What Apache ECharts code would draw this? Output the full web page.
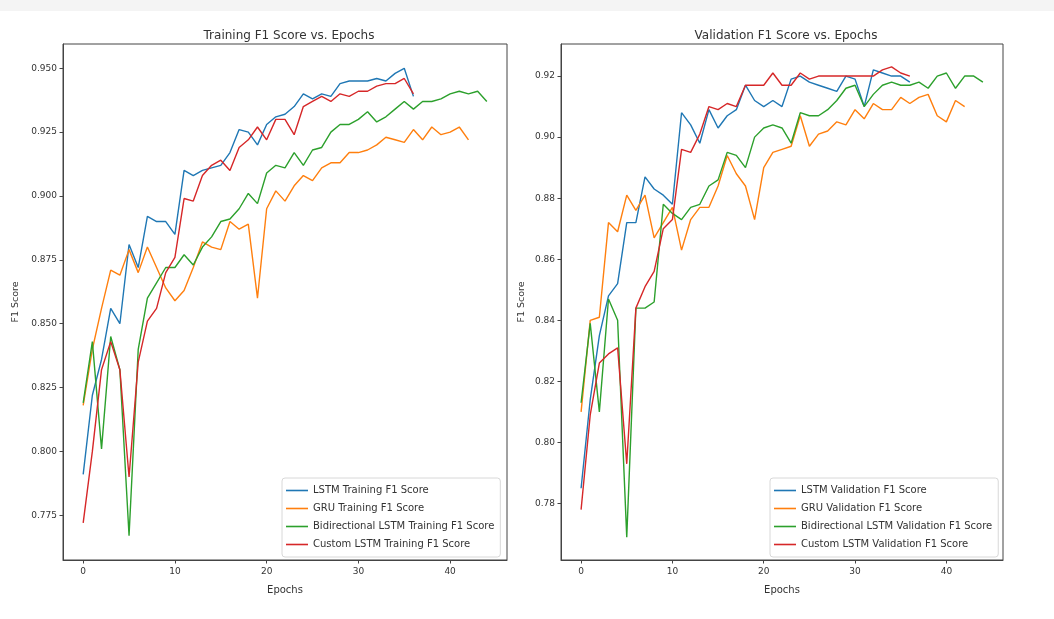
<!DOCTYPE html>
<html>
<head>
<meta charset="utf-8">
<script src="https://cdn.jsdelivr.net/npm/echarts@6/dist/echarts.min.js"></script>
<style>html,body{margin:0;padding:0;background:#fff}#c{width:1054px;height:619px}</style>
</head>
<body>
<div id="c"></div>
<script>
const xTicks = [0, 10, 20, 30, 40];
const yTicksTrain = [0.775, 0.800, 0.825, 0.850, 0.875, 0.900, 0.925, 0.950];
const yTicksVal = [0.78, 0.80, 0.82, 0.84, 0.86, 0.88, 0.90, 0.92];

const trainLSTM = [0.791,0.822,0.836,0.856,0.850,0.881,0.872,0.892,0.890,0.890,0.885,0.910,0.908,0.910,0.911,0.912,0.917,0.926,0.925,0.920,0.928,0.931,0.932,0.935,0.940,0.938,0.940,0.939,0.944,0.945,0.945,0.945,0.946,0.945,0.948,0.950,0.939];
const trainGRU = [0.818,0.840,0.856,0.871,0.869,0.879,0.870,0.880,0.872,0.864,0.859,0.863,0.872,0.882,0.880,0.879,0.890,0.887,0.889,0.860,0.895,0.902,0.898,0.904,0.908,0.906,0.911,0.913,0.913,0.917,0.917,0.918,0.920,0.923,0.922,0.921,0.926,0.922,0.927,0.924,0.925,0.927,0.922];
const trainBiLSTM = [0.819,0.843,0.801,0.845,0.832,0.767,0.840,0.860,0.866,0.872,0.872,0.877,0.873,0.880,0.884,0.890,0.891,0.895,0.901,0.897,0.909,0.912,0.911,0.917,0.912,0.918,0.919,0.925,0.928,0.928,0.930,0.933,0.929,0.931,0.934,0.937,0.934,0.937,0.937,0.938,0.940,0.941,0.940,0.941,0.937];
const trainCustom = [0.772,0.800,0.832,0.843,0.832,0.790,0.835,0.851,0.856,0.870,0.876,0.899,0.898,0.908,0.912,0.914,0.910,0.919,0.922,0.927,0.922,0.930,0.930,0.924,0.935,0.937,0.939,0.937,0.940,0.939,0.941,0.941,0.943,0.944,0.944,0.946,0.940];

const valLSTM = [0.785,0.814,0.835,0.848,0.852,0.872,0.872,0.887,0.883,0.881,0.878,0.908,0.904,0.898,0.909,0.903,0.907,0.909,0.917,0.912,0.910,0.912,0.910,0.919,0.920,0.918,0.917,0.916,0.915,0.920,0.919,0.910,0.922,0.921,0.920,0.920,0.918];
const valGRU = [0.810,0.840,0.841,0.872,0.869,0.881,0.876,0.881,0.867,0.872,0.877,0.863,0.873,0.877,0.877,0.884,0.894,0.888,0.884,0.873,0.890,0.895,0.896,0.897,0.907,0.897,0.901,0.902,0.905,0.904,0.909,0.906,0.911,0.909,0.909,0.913,0.911,0.913,0.914,0.907,0.905,0.912,0.910];
const valBiLSTM = [0.813,0.839,0.810,0.847,0.840,0.769,0.844,0.844,0.846,0.878,0.875,0.873,0.877,0.878,0.884,0.886,0.895,0.894,0.890,0.900,0.903,0.904,0.903,0.898,0.908,0.907,0.907,0.909,0.912,0.916,0.917,0.910,0.914,0.917,0.918,0.917,0.917,0.918,0.916,0.920,0.921,0.916,0.920,0.920,0.918];
const valCustom = [0.778,0.809,0.826,0.829,0.831,0.793,0.844,0.851,0.856,0.870,0.873,0.896,0.895,0.901,0.910,0.909,0.911,0.910,0.917,0.917,0.917,0.921,0.917,0.917,0.921,0.919,0.920,0.920,0.920,0.920,0.920,0.920,0.920,0.922,0.923,0.921,0.920];

const namesTrain = ['LSTM Training F1 Score','GRU Training F1 Score','Bidirectional LSTM Training F1 Score','Custom LSTM Training F1 Score'];
const namesVal = ['LSTM Validation F1 Score','GRU Validation F1 Score','Bidirectional LSTM Validation F1 Score','Custom LSTM Validation F1 Score'];
const colors = ['#1f77b4','#ff7f0e','#2ca02c','#d62728'];

const FONT = 'DejaVu Sans';
const txt = '#333';

function pts(arr){ return arr.map((v,i)=>[i,v]); }

function xAx(gi){
  return {
    type:'value', gridIndex:gi, min:-2.2, max:46.2,
    name:'Epochs', nameLocation:'middle', nameGap:25,
    nameTextStyle:{fontFamily:FONT,fontSize:10,color:txt},
    axisLine:{show:true,onZero:false,lineStyle:{color:'#444',width:1}},
    axisTick:{show:true,inside:false,length:3.5,lineStyle:{color:'#444'},customValues:xTicks},
    axisLabel:{show:true,fontFamily:FONT,fontSize:9,color:txt,margin:7,customValues:xTicks,formatter:v=>String(v)},
    splitLine:{show:false}
  };
}
function yAx(gi,min,max,ticks,dec,gap){
  return {
    type:'value', gridIndex:gi, min:min, max:max,
    name:'F1 Score', nameLocation:'middle', nameGap:gap, nameRotate:90,
    nameTextStyle:{fontFamily:FONT,fontSize:9.5,color:txt},
    axisLine:{show:true,onZero:false,lineStyle:{color:'#444',width:1}},
    axisTick:{show:true,inside:false,length:3.5,lineStyle:{color:'#444'},customValues:ticks},
    axisLabel:{show:true,fontFamily:FONT,fontSize:9,color:txt,margin:6,customValues:ticks,formatter:v=>v.toFixed(dec)},
    splitLine:{show:false}
  };
}
function ser(name,data,ci,gi){
  return {
    name:name, type:'line', xAxisIndex:gi, yAxisIndex:gi,
    data:pts(data), showSymbol:false, symbol:'none', smooth:false,
    lineStyle:{color:colors[ci],width:1.4}, itemStyle:{color:colors[ci]},
    emphasis:{disabled:true}, animation:false, z:2+ci
  };
}
function leg(names,left){
  return {
    orient:'vertical', left:left, top:478, data:names,
    icon:'rect', itemWidth:22, itemHeight:1.6, itemGap:5,
    textStyle:{fontFamily:FONT,fontSize:10,color:txt,lineHeight:13},
    backgroundColor:'rgba(255,255,255,0.85)', borderColor:'#d8d8d8', borderWidth:1, borderRadius:3,
    padding:[6,6,6,4], selectedMode:false, z:10
  };
}

const chart = echarts.init(document.getElementById('c'),null,{renderer:'canvas'});
chart.setOption({
  backgroundColor:'#fff',
  animation:false,
  graphic:[{type:'rect',shape:{x:0,y:0,width:1054,height:11},style:{fill:'#f4f4f4'},silent:true}],
  title:[
    {text:'Training F1 Score vs. Epochs',left:284,top:25,textAlign:'center',textStyle:{fontFamily:FONT,fontSize:12,fontWeight:'normal',color:txt}},
    {text:'Validation F1 Score vs. Epochs',left:781,top:25,textAlign:'center',textStyle:{fontFamily:FONT,fontSize:12,fontWeight:'normal',color:txt}}
  ],
  grid:[
    {left:63,top:44,width:444,height:516,show:true,borderColor:'#444',borderWidth:1,backgroundColor:'transparent'},
    {left:561,top:44,width:442,height:516,show:true,borderColor:'#444',borderWidth:1,backgroundColor:'transparent'}
  ],
  xAxis:[xAx(0),xAx(1)],
  yAxis:[yAx(0,0.7575,0.9595,yTicksTrain,3,42),yAx(1,0.7615,0.9305,yTicksVal,2,34)],
  legend:[leg(namesTrain,282),leg(namesVal,770)],
  series:[
    ser(namesTrain[0],trainLSTM,0,0),
    ser(namesTrain[1],trainGRU,1,0),
    ser(namesTrain[2],trainBiLSTM,2,0),
    ser(namesTrain[3],trainCustom,3,0),
    ser(namesVal[0],valLSTM,0,1),
    ser(namesVal[1],valGRU,1,1),
    ser(namesVal[2],valBiLSTM,2,1),
    ser(namesVal[3],valCustom,3,1)
  ]
});
</script>
</body>
</html>
